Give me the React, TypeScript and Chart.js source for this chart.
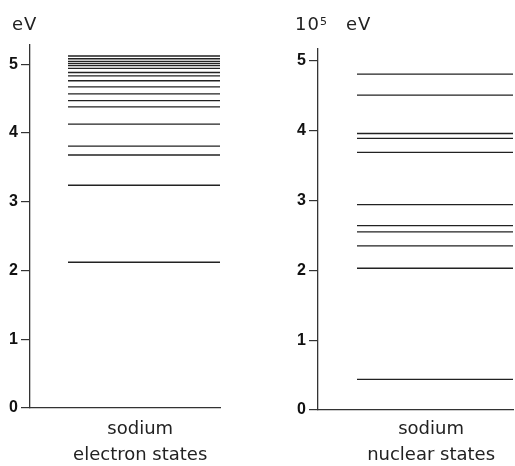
import React, { useEffect, useRef } from "react";
import { Chart, registerables } from "chart.js";

Chart.register(...registerables);

// Energy levels (left: eV, right: 10^5 eV)
const electronLevels = [
  2.12, 3.24, 3.68, 3.81, 4.13, 4.38, 4.47, 4.57, 4.67, 4.76, 4.83, 4.88, 4.94,
  4.98, 5.01, 5.04, 5.08, 5.12,
];
const nuclearLevels = [0.44, 2.03, 2.35, 2.55, 2.64, 2.94, 3.69, 3.89, 3.96, 4.51, 4.81];
const yTicks = [0, 1, 2, 3, 4, 5];
const electronLabel = ["sodium", "electron states"];
const nuclearLabel = ["sodium", "nuclear states"];

const FONT = "'DejaVu Sans', sans-serif";
const TICK_FONT = "'Liberation Sans', Arial, sans-serif";
const INK = "#222";

function makeConfig(levels: number[], label: string[], opts: {
  yMax: number; axisW: number; padR: number; padT: number; xH: number; labelPad: number;
}) {
  const levelStart = 0.2;
  const levelEnd = 1;
  return {
    type: "scatter" as const,
    data: {
      datasets: levels.map((v) => ({
        data: [
          { x: levelStart, y: v },
          { x: levelEnd, y: v },
        ],
        showLine: true,
        borderColor: INK,
        borderWidth: 1.3,
        pointRadius: 0,
        pointHoverRadius: 0,
      })),
    },
    options: {
      animation: false as const,
      responsive: false,
      maintainAspectRatio: false,
      events: [],
      layout: { padding: { left: 0, right: opts.padR, top: opts.padT, bottom: 0 } },
      plugins: { legend: { display: false }, tooltip: { enabled: false } },
      scales: {
        x: {
          type: "linear" as const,
          min: 0,
          max: 1,
          afterBuildTicks: (s: any) => {
            s.ticks = [{ value: 0.58 }];
          },
          afterFit: (s: any) => {
            s.height = opts.xH;
          },
          ticks: {
            callback: () => label,
            font: { family: FONT, size: 18, lineHeight: 1.42 },
            color: INK,
            padding: opts.labelPad,
            maxRotation: 0,
            autoSkip: false,
          },
          grid: { display: false, drawTicks: false },
          border: { display: true, color: "#333", width: 1.3 },
        },
        y: {
          type: "linear" as const,
          min: 0,
          max: opts.yMax,
          afterBuildTicks: (s: any) => {
            s.ticks = yTicks.map((v) => ({ value: v }));
          },
          afterFit: (s: any) => {
            s.width = opts.axisW;
          },
          ticks: {
            font: { family: TICK_FONT, size: 16, weight: "bold" as const },
            color: "#111",
            padding: 3,
          },
          grid: {
            display: true,
            drawOnChartArea: false,
            drawTicks: true,
            tickLength: 9,
            color: "#333",
            lineWidth: 1.2,
          },
          border: { display: true, color: "#333", width: 1.3 },
        },
      },
    },
  };
}

export default function App() {
  const leftRef = useRef<HTMLCanvasElement>(null);
  const rightRef = useRef<HTMLCanvasElement>(null);

  useEffect(() => {
    const c1 = new Chart(
      leftRef.current!,
      makeConfig(electronLevels, electronLabel, { yMax: 5.28, axisW: 30, padR: 38, padT: 45, xH: 58, labelPad: 9 }) as any
    );
    const c2 = new Chart(
      rightRef.current!,
      makeConfig(nuclearLevels, nuclearLabel, { yMax: 5.17, axisW: 60, padR: 2, padT: 49, xH: 56, labelPad: 7 }) as any
    );
    return () => {
      c1.destroy();
      c2.destroy();
    };
  }, []);

  const titleStyle: React.CSSProperties = {
    position: "absolute",
    fontFamily: FONT,
    fontSize: 18,
    lineHeight: "18px",
    letterSpacing: 1,
    color: INK,
    whiteSpace: "nowrap",
  };

  return (
    <div style={{ position: "absolute", left: 0, top: 0, width: 515, height: 466, background: "#fff" }}>
      <canvas ref={leftRef} width={258} height={466} style={{ position: "absolute", left: 0, top: 0, width: 258, height: 466 }} />
      <canvas ref={rightRef} width={257} height={466} style={{ position: "absolute", left: 258, top: 0, width: 257, height: 466 }} />
      <div style={{ ...titleStyle, left: 12, top: 15 }}>eV</div>
      <div style={{ ...titleStyle, left: 295, top: 15 }}>
        10<sup style={{ fontSize: 11, verticalAlign: "top", position: "relative", top: -2 }}>5</sup>
        <span style={{ marginLeft: 18 }}>eV</span>
      </div>
    </div>
  );
}
